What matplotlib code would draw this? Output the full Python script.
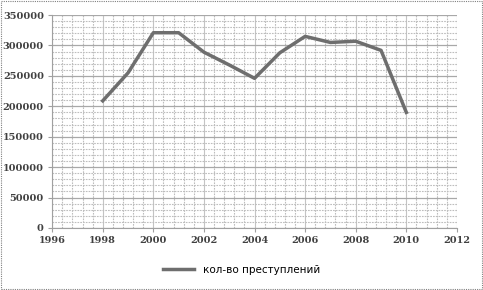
import matplotlib
matplotlib.use("Agg")
import matplotlib.pyplot as plt
from matplotlib.patches import Rectangle
from matplotlib.ticker import MultipleLocator

# данные
goda = [1998, 1999, 2000, 2001, 2002, 2003, 2004, 2005, 2006, 2007, 2008, 2009, 2010]
prestupleniya = [209000, 255000, 321000, 321000, 289000, 268000, 246000, 288000,
                 315000, 305000, 307000, 292000, 190000]

fig = plt.figure(figsize=(4.83, 2.9), dpi=100)
ax = fig.add_axes([0.108, 0.214, 0.838, 0.734])

ax.plot(goda, prestupleniya, color="#6e6e6e", linewidth=2.5,
        label="кол-во преступлений", solid_joinstyle="round")

ax.set_xlim(1996, 2012)
ax.set_ylim(0, 350000)
ax.xaxis.set_major_locator(MultipleLocator(2))
ax.xaxis.set_minor_locator(MultipleLocator(0.4))
ax.yaxis.set_major_locator(MultipleLocator(50000))
ax.yaxis.set_minor_locator(MultipleLocator(10000))

ax.grid(which="major", axis="y", color="#a8a8a8", linewidth=0.9)
ax.grid(which="major", axis="x", color="#c4c4c4", linewidth=0.8)
ax.grid(which="minor", color="#bdbdbd", linewidth=0.8, linestyle=(0, (1.5, 1)))
ax.set_axisbelow(True)

for s in ["top", "right"]:
    ax.spines[s].set_visible(False)
ax.spines["left"].set_color("#a0a0a0")
ax.spines["bottom"].set_color("#a0a0a0")
ax.tick_params(which="both", length=0)
ax.tick_params(which="major", length=3, color="#a0a0a0", labelsize=7, pad=3)
for lbl in ax.get_xticklabels() + ax.get_yticklabels():
    lbl.set_fontfamily("DejaVu Serif")
    lbl.set_fontweight("bold")
    lbl.set_color("#404040")

fig.legend(loc="lower center", bbox_to_anchor=(0.5, 0.02), frameon=False,
           handlelength=3, prop={"family": "DejaVu Sans", "size": 7.5})

# рамка вокруг
fig.patches.append(Rectangle((0.003, 0.003), 0.994, 0.994, transform=fig.transFigure,
                             fill=False, edgecolor="#808080", linewidth=0.8,
                             linestyle=(0, (1, 1))))

fig.savefig("out.png", dpi=100)
